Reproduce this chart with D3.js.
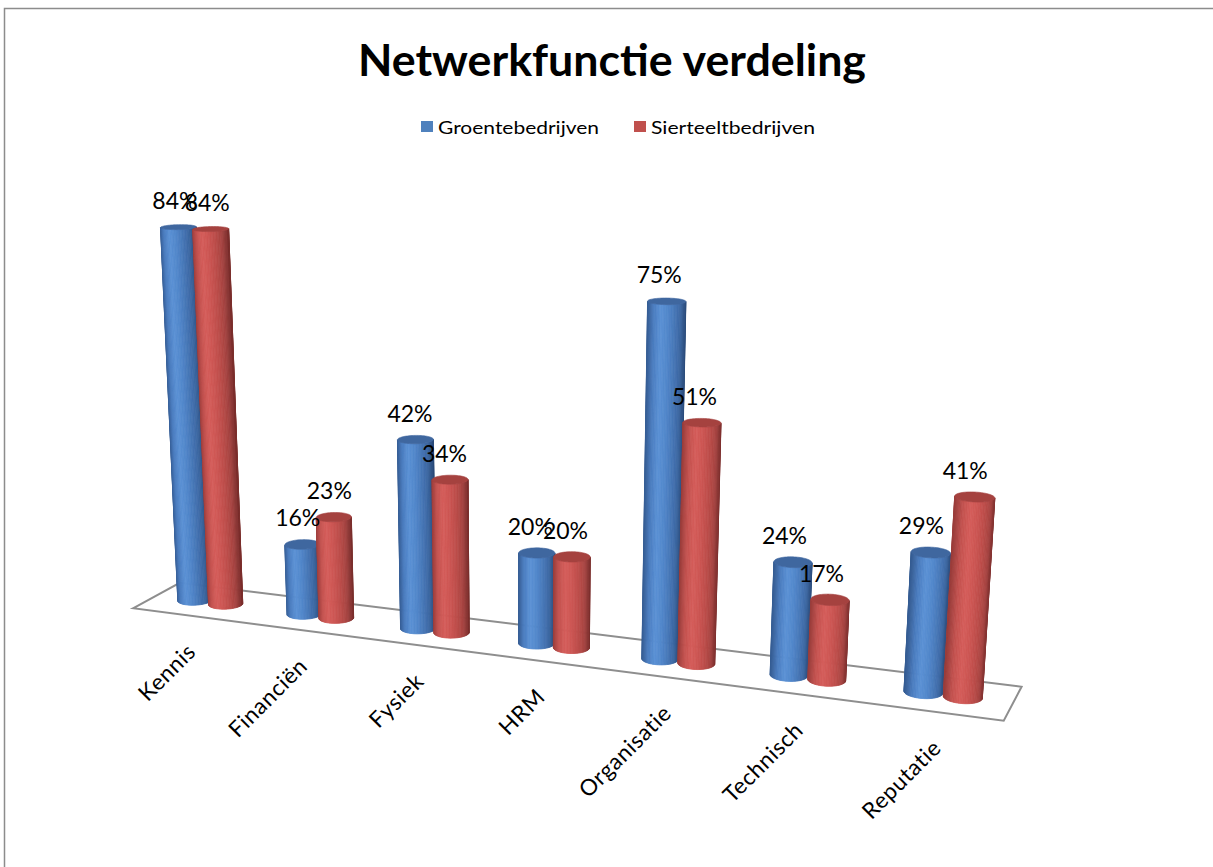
<!DOCTYPE html>
<html>
<head>
<meta charset="utf-8">
<script src="https://cdn.jsdelivr.net/npm/d3@7"></script>
<style>
  html, body { margin: 0; padding: 0; background: #fff; }
  svg { display: block; }
</style>
</head>
<body>
<svg id="chart" width="1213" height="867"></svg>
<script>
// ---- data ----
const categories = ["Kennis", "Financiën", "Fysiek", "HRM", "Organisatie", "Technisch", "Reputatie"];
const seriesNames = ["Groentebedrijven", "Sierteeltbedrijven"];
const groente = [84, 16, 42, 20, 75, 24, 29];
const sierteelt = [84, 23, 34, 20, 51, 17, 41];
const chartTitle = "Netwerkfunctie verdeling";

// ---- styling ----
const seriesStyle = [
  { // blue
    cap: "#3f679f",
    stops: [[-1, "#355c92"], [-0.7, "#4a7cbf"], [-0.35, "#5b91d5"], [0, "#5288cb"], [0.4, "#4676b6"], [0.75, "#3a649d"], [1, "#2a4a78"]],
    swatch: "#4f81bd"
  },
  { // red
    cap: "#a5423f",
    stops: [[-1, "#9a3d3b"], [-0.7, "#c3524f"], [-0.35, "#d55d5a"], [0, "#cc5653"], [0.4, "#bb4c49"], [0.75, "#a24240"], [1, "#7a2e2c"]],
    swatch: "#c0504d"
  }
];

const svg = d3.select("#chart");

// ---- 3D world scales ----
const xCat = d3.scaleBand().domain(categories).range([-3.5, 3.5]).paddingInner(0).paddingOuter(0);
const xSeries = d3.scaleBand().domain(seriesNames).range([0, xCat.bandwidth()]).paddingInner(0).paddingOuter(0.75);
const yVal = d3.scaleLinear().domain([0, 100]).range([0, 3.631]);
const floorDepth = 0.75;

// ---- perspective camera ----
const cam = {
  theta: 21.5 * Math.PI / 180, // rotation about vertical axis
  phi: 16.5 * Math.PI / 180,   // downward tilt
  f: 2219, cx: 523, cy: 557,
  tx: 0.238, ty: -0.68, tz: 17.06
};
const ct = Math.cos(cam.theta), st = Math.sin(cam.theta);
const cp = Math.cos(cam.phi), sp = Math.sin(cam.phi);

function rotate([x, y, z]) {
  const x1 = x * ct + z * st, z1 = -x * st + z * ct;
  return [x1, y * cp + z1 * sp, -y * sp + z1 * cp];
}
function toCam(p) {
  const r = rotate(p);
  return [r[0] + cam.tx, r[1] + cam.ty, r[2] + cam.tz];
}
function project(p) {
  const c = toCam(p);
  return [cam.cx + cam.f * c[0] / c[2], cam.cy - cam.f * c[1] / c[2]];
}

// ---- chart frame ----
svg.append("path")
  .attr("d", "M4.5,867 V8.5 H1213")
  .attr("fill", "none").attr("stroke", "#8c8c8c").attr("stroke-width", 1.5);

// ---- title ----
svg.append("text")
  .attr("x", 612).attr("y", 76)
  .attr("text-anchor", "middle")
  .attr("font-family", "Lato, 'Open Sans', sans-serif")
  .attr("font-weight", "bold").attr("font-size", 44)
  .attr("textLength", 508).attr("lengthAdjust", "spacingAndGlyphs")
  .attr("fill", "#000")
  .text(chartTitle);

// ---- legend ----
const legendItems = [
  { name: seriesNames[0], x: 421, w: 161 },
  { name: seriesNames[1], x: 634, w: 164 }
];
const lg = svg.append("g");
legendItems.forEach((d, i) => {
  lg.append("rect").attr("x", d.x).attr("y", 121).attr("width", 12).attr("height", 11)
    .attr("fill", seriesStyle[i].swatch);
  lg.append("text").attr("x", d.x + 17).attr("y", 134)
    .attr("font-family", "Lato, 'Open Sans', sans-serif").attr("font-size", 17.5)
    .attr("textLength", d.w).attr("lengthAdjust", "spacingAndGlyphs")
    .attr("fill", "#000").text(d.name);
});

// ---- floor ----
const fx0 = xCat.range()[0], fx1 = xCat.range()[1];
const fz = floorDepth / 2;
const floorPts = [[fx0, 0, -fz], [fx0, 0, fz], [fx1, 0, fz], [fx1, 0, -fz]].map(project);
svg.append("path")
  .attr("d", "M" + floorPts.map(p => p.join(",")).join("L") + "Z")
  .attr("fill", "#fff").attr("stroke", "#8e8e8e").attr("stroke-width", 2)
  .attr("stroke-linejoin", "miter");

// ---- category labels ----
svg.append("g").selectAll("text").data(categories).join("text")
  .attr("transform", d => {
    const p = project([xCat(d) + xCat.bandwidth() / 2, 0, -fz]);
    return `translate(${p[0] + 10},${p[1] + 38}) rotate(-45)`;
  })
  .attr("text-anchor", "end")
  .attr("font-family", "Lato, 'Open Sans', sans-serif").attr("font-size", 22.5)
  .attr("letter-spacing", 0.6)
  .attr("fill", "#000")
  .text(d => d);

// ---- cylinders ----
const valueSets = [groente, sierteelt];
const bars = [];
seriesNames.forEach((s, si) => {
  categories.forEach((c, ci) => {
    const v = valueSets[si][ci];
    const xc = xCat(c) + xSeries(s) + xSeries.bandwidth() / 2;
    bars.push({ si, ci, v, xc, r: xSeries.bandwidth() / 2 * 0.965, h: yVal(v) });
  });
});
bars.forEach(b => { b.depth = toCam([b.xc, 0, 0])[2]; });
bars.sort((a, b) => b.depth - a.depth);

const N = 72;
const barLayer = svg.append("g");
bars.forEach(b => {
  const style = seriesStyle[b.si];
  const shade = d3.scaleLinear().domain(style.stops.map(s => s[0])).range(style.stops.map(s => s[1]))
    .interpolate(d3.interpolateRgb).clamp(true);
  const g = barLayer.append("g");
  const angles = d3.range(N + 1).map(i => i / N * 2 * Math.PI);
  const bot = angles.map(a => [b.xc + b.r * Math.cos(a), 0, b.r * Math.sin(a)]);
  const top = angles.map(a => [b.xc + b.r * Math.cos(a), b.h, b.r * Math.sin(a)]);
  const bot2 = bot.map(project), top2 = top.map(project);
  for (let i = 0; i < N; i++) {
    const am = (angles[i] + angles[i + 1]) / 2;
    const n = rotate([Math.cos(am), 0, Math.sin(am)]);
    const pc = toCam([b.xc + b.r * Math.cos(am), b.h / 2, b.r * Math.sin(am)]);
    if (n[0] * pc[0] + n[1] * pc[1] + n[2] * pc[2] >= 0) continue;
    const col = shade(n[0]);
    const pts = [bot2[i], bot2[i + 1], top2[i + 1], top2[i]];
    g.append("path")
      .attr("d", "M" + pts.map(p => p.join(",")).join("L") + "Z")
      .attr("fill", col).attr("stroke", col).attr("stroke-width", 0.8).attr("stroke-linejoin", "round");
  }
  g.append("path")
    .attr("d", "M" + top2.map(p => p.join(",")).join("L") + "Z")
    .attr("fill", style.cap).attr("stroke", style.cap).attr("stroke-width", 0.6);
  b.topPt = project([b.xc, b.h, 0]);
});

// ---- data labels ----
const labelOrder = bars.slice().sort((a, b) => a.si - b.si || a.ci - b.ci);
svg.append("g").selectAll("text").data(labelOrder).join("text")
  .attr("x", d => d.topPt[0] - 3.5 - d.ci)
  .attr("y", d => d.topPt[1] - 18)
  .attr("text-anchor", "middle")
  .attr("font-family", "Lato, 'Open Sans', sans-serif").attr("font-size", 23)
  .attr("fill", "#000")
  .text(d => d.v + "%");
</script>
</body>
</html>
